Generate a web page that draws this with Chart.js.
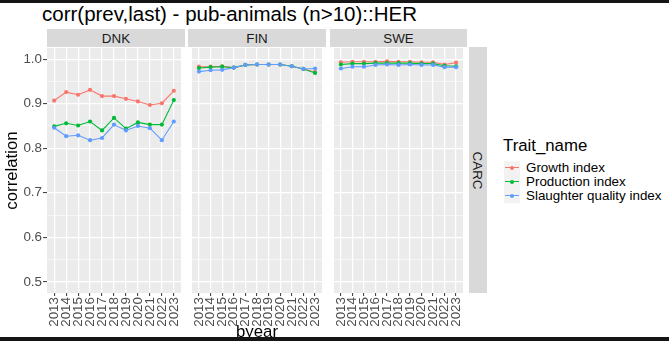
<!DOCTYPE html>
<html>
<head>
<meta charset="utf-8">
<script src="https://cdn.jsdelivr.net/npm/chart.js@4.4.1/dist/chart.umd.min.js"></script>
<style>
  body { margin: 0; background: #fff; }
  #page { position: relative; width: 669px; height: 341px; overflow: hidden; background: #fff;
          font-family: "Liberation Sans", Arial, sans-serif; }
  canvas { position: absolute; }
  .txt { position: absolute; white-space: nowrap; }
  .strip { position: absolute; background: #d9d9d9; color: #1a1a1a; font-size: 13.4px;
           display: flex; align-items: center; justify-content: center; }
  .bar { position: absolute; left: 0; width: 669px; background: #141414; }
  .key { position: absolute; left: 504px; width: 16px; height: 14px; background: #f2f2f2; }
  .key i { position: absolute; left: 1px; right: 1px; top: 6.5px; height: 1px; }
  .key b { position: absolute; left: 6px; top: 5px; width: 4px; height: 4px; border-radius: 50%; }
</style>
</head>
<body>
<div id="page">
  <div class="txt" style="left:42px;top:4px;font-size:20.5px;line-height:20.5px;color:#000">corr(prev,last) - pub-animals (n&gt;10)::HER</div>

  <div class="strip" style="left:47px;top:29px;width:138px;height:18px">DNK</div>
  <div class="strip" style="left:188px;top:29px;width:138px;height:18px">FIN</div>
  <div class="strip" style="left:330px;top:29px;width:137px;height:18px">SWE</div>
  <div class="strip" style="left:469px;top:47px;width:18px;height:246px">
    <span style="transform:rotate(90deg);display:block">CARC</span>
  </div>

  <canvas id="dnk" width="185" height="297" style="left:0px;top:44px"></canvas>
  <canvas id="fin" width="138" height="297" style="left:188px;top:44px"></canvas>
  <canvas id="swe" width="137" height="297" style="left:330px;top:44px"></canvas>

  <div class="txt" style="left:0;width:514px;text-align:center;top:322.7px;font-size:16.8px;line-height:17px;color:#000">byear</div>

  <div class="txt" style="left:503px;top:137px;font-size:16.8px;line-height:18px;color:#000">Trait_name</div>
  <div id="legend"></div>

  <div class="bar" style="top:0;height:3px"></div>
  <div class="bar" style="top:337px;height:4px"></div>
</div>

<script>
// annees de naissance (axe x)
const years = ['2013','2014','2015','2016','2017','2018','2019','2020','2021','2022','2023'];

// graduations de l'axe y
const yMajor = [0.5, 0.6, 0.7, 0.8, 0.9, 1.0];
const yMinor = [0.55, 0.65, 0.75, 0.85, 0.95];

const traitNames = ['Growth index', 'Production index', 'Slaughter quality index'];
const traitColors = ['#F8766D', '#00BA38', '#619CFF'];

// DNK
const dnkGrowth     = [0.907, 0.926, 0.920, 0.931, 0.917, 0.917, 0.911, 0.905, 0.897, 0.901, 0.929];
const dnkProduction = [0.849, 0.856, 0.851, 0.860, 0.840, 0.868, 0.844, 0.858, 0.853, 0.853, 0.908];
const dnkSlaughter  = [0.846, 0.827, 0.829, 0.818, 0.823, 0.853, 0.840, 0.850, 0.845, 0.818, 0.860];

// FIN
const finGrowth     = [0.983, 0.983, 0.984, 0.981, 0.987, 0.988, 0.988, 0.988, 0.984, 0.978, 0.971];
const finProduction = [0.980, 0.982, 0.983, 0.981, 0.987, 0.988, 0.988, 0.988, 0.984, 0.978, 0.969];
const finSlaughter  = [0.972, 0.975, 0.976, 0.981, 0.987, 0.988, 0.988, 0.988, 0.984, 0.978, 0.979];

// SWE
const sweGrowth     = [0.993, 0.994, 0.994, 0.994, 0.995, 0.994, 0.994, 0.993, 0.993, 0.988, 0.992];
const sweProduction = [0.988, 0.990, 0.990, 0.991, 0.991, 0.991, 0.991, 0.990, 0.990, 0.985, 0.984];
const sweSlaughter  = [0.979, 0.983, 0.983, 0.987, 0.988, 0.987, 0.988, 0.987, 0.987, 0.982, 0.982];

const FONT = '"Liberation Sans", Arial, sans-serif';
const yGrid = yMajor.concat(yMinor).sort((a, b) => a - b);

function isMajor(v) {
	return yMajor.some(m => Math.abs(m - v) < 1e-9);
}

// pas de marge automatique autour des etiquettes : le panneau remplit sa zone
function noPadding(s) {
	s.paddingTop = 0;
	s.paddingBottom = 0;
	s.paddingLeft = 0;
	s.paddingRight = 0;
}

// fond gris du panneau
const panelBg = {
	id: 'panelBg',
	beforeDraw(chart) {
		const a = chart.chartArea;
		const ctx = chart.ctx;
		ctx.save();
		ctx.fillStyle = '#ebebeb';
		ctx.fillRect(a.left, a.top, a.right - a.left, a.bottom - a.top);
		ctx.restore();
	}
};

// lignes d'abord, puis les points par-dessus
function buildDatasets(series) {
	const sets = [];
	series.forEach((vals, i) => {
		sets.push({
			data: vals.map((v, j) => ({ x: j, y: v })),
			borderColor: traitColors[i], borderWidth: 1.1,
			pointRadius: 0, showLine: true, order: 10 - i
		});
	});
	series.forEach((vals, i) => {
		sets.push({
			data: vals.map((v, j) => ({ x: j, y: v })),
			backgroundColor: traitColors[i], borderWidth: 0,
			pointRadius: 2.1, showLine: false, order: 4 - i
		});
	});
	return sets;
}

function makePanel(id, series, withYAxis) {
	const yScale = {
		type: 'linear', min: 0.475, max: 1.025,
		afterBuildTicks: s => { s.ticks = yGrid.map(v => ({ value: v })); },
		afterFit: s => { s.width = withYAxis ? 47 : 0; noPadding(s); },
		border: { display: false },
		grid: {
			color: '#ffffff',
			lineWidth: c => isMajor(c.tick.value) ? 1.2 : 0.6,
			drawTicks: withYAxis,
			tickLength: 4,
			tickWidth: 1,
			tickColor: c => isMajor(c.tick.value) ? '#333333' : 'rgba(0,0,0,0)'
		},
		ticks: {
			display: withYAxis,
			padding: 1,
			color: '#4d4d4d',
			font: { family: FONT, size: 13.4 },
			callback: v => isMajor(v) ? v.toFixed(1) : ''
		},
		title: {
			display: withYAxis, text: 'correlation', color: '#000',
			font: { family: FONT, size: 16.8 }, padding: { top: 2, bottom: 0 }
		}
	};

	const xScale = {
		type: 'linear', min: -0.6, max: 10.6,
		afterBuildTicks: s => { s.ticks = years.map((y, i) => ({ value: i })); },
		afterFit: s => { s.height = 48; noPadding(s); },
		border: { display: false },
		grid: { color: '#ffffff', lineWidth: 1.2, tickLength: 3, tickWidth: 1, tickColor: '#333333' },
		ticks: {
			autoSkip: false, minRotation: 90, maxRotation: 90, padding: 1,
			color: '#4d4d4d', font: { family: FONT, size: 13.4 },
			callback: v => years[v]
		}
	};

	return new Chart(document.getElementById(id), {
		type: 'scatter',
		data: { datasets: buildDatasets(series) },
		options: {
			responsive: false, animation: false, devicePixelRatio: 1,
			layout: { padding: { top: 3, right: 0, bottom: 0, left: 0 } },
			plugins: { legend: { display: false }, tooltip: { enabled: false } },
			scales: { x: xScale, y: yScale }
		},
		plugins: [panelBg]
	});
}

makePanel('dnk', [dnkGrowth, dnkProduction, dnkSlaughter], true);
makePanel('fin', [finGrowth, finProduction, finSlaughter], false);
makePanel('swe', [sweGrowth, sweProduction, sweSlaughter], false);

// legende Trait_name
const legend = document.getElementById('legend');
traitNames.forEach((name, i) => {
	const top = 160.7 + i * 14;
	const key = document.createElement('div');
	key.className = 'key';
	key.style.top = top + 'px';
	key.innerHTML = '<i style="background:' + traitColors[i] + '"></i><b style="background:' + traitColors[i] + '"></b>';
	legend.appendChild(key);
	const lab = document.createElement('div');
	lab.className = 'txt';
	lab.style.cssText = 'left:526px;top:' + top + 'px;font-size:13.4px;line-height:14px;color:#000';
	lab.textContent = name;
	legend.appendChild(lab);
});
</script>
</body>
</html>
